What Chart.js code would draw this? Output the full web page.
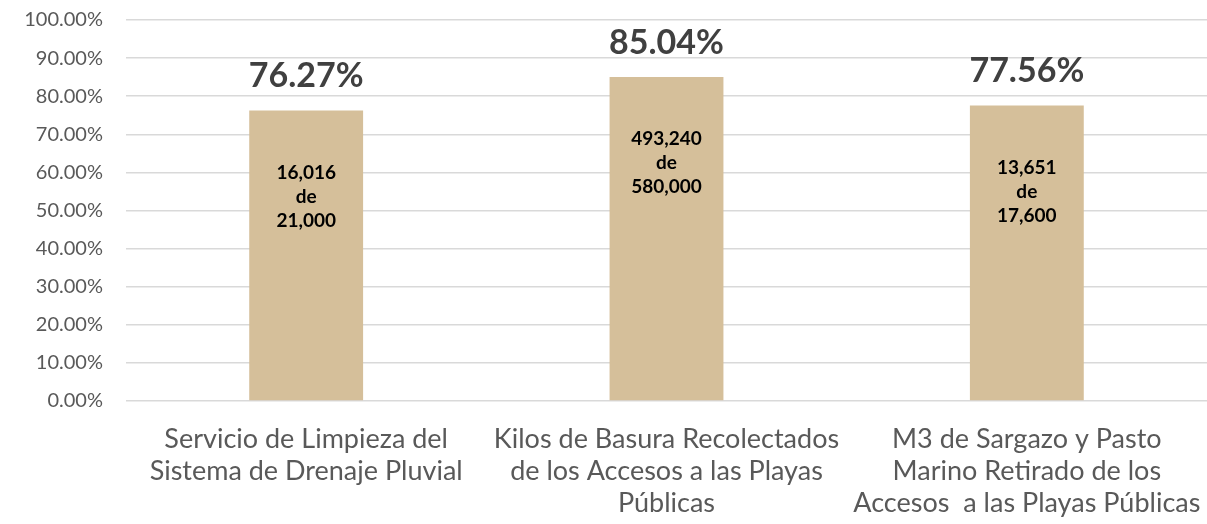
<!DOCTYPE html>
<html lang="es">
  <head>
    <meta charset="UTF-8" />
    <title>Avance de metas</title>
    <style>
      html, body { margin: 0; padding: 0; background: #fff; }
      .chart-wrapper { width: 1207px; height: 524px; }
    </style>
  </head>
  <body>
    <div class="chart-wrapper">
      <canvas id="chartBar"></canvas>
    </div>
    <script src="https://cdn.jsdelivr.net/npm/chart.js"></script>
    <script>
      const categories = [
        ["Servicio de Limpieza del", "Sistema de Drenaje Pluvial"],
        ["Kilos de Basura Recolectados", "de los Accesos a las Playas", "Públicas"],
        ["M3 de Sargazo y Pasto", "Marino Retirado de los", "Accesos  a las Playas Públicas"],
      ];
      const percentages = [76.27, 85.04, 77.56];
      const achieved = ["16,016", "493,240", "13,651"];
      const goals = ["21,000", "580,000", "17,600"];
      const yTicks = [0, 10, 20, 30, 40, 50, 60, 70, 80, 90, 100];

      const labelFont = "Lato, 'Open Sans', sans-serif";

      // draws the percentage above each bar and the "x de y" text inside it
      const barLabels = {
        id: "barLabels",
        afterDatasetsDraw(chart) {
          const ctx = chart.ctx;
          const bars = chart.getDatasetMeta(0).data;
          ctx.save();
          ctx.textAlign = "center";
          bars.forEach(function (bar, i) {
            ctx.fillStyle = "#404040";
            ctx.font = "bold 34px " + labelFont;
            ctx.textBaseline = "alphabetic";
            ctx.fillText(percentages[i].toFixed(2) + "%", bar.x, bar.y - 23);

            ctx.fillStyle = "#000";
            ctx.font = "bold 19px " + labelFont;
            ctx.textBaseline = "middle";
            const mid = bar.y + 86;
            ctx.fillText(achieved[i], bar.x, mid - 24);
            ctx.fillText("de", bar.x, mid);
            ctx.fillText(goals[i], bar.x, mid + 24);
          });
          ctx.restore();
        },
      };

      new Chart(document.getElementById("chartBar"), {
        type: "bar",
        data: {
          labels: categories,
          datasets: [
            {
              data: percentages,
              backgroundColor: "#d5bf9a",
              categoryPercentage: 0.316,
              barPercentage: 1,
            },
          ],
        },
        options: {
          responsive: true,
          maintainAspectRatio: false,
          animation: false,
          layout: { padding: { top: 20, right: -3 } },
          plugins: {
            legend: { display: false },
            tooltip: { enabled: false },
          },
          scales: {
            x: {
              grid: { display: false },
              border: { display: false },
              ticks: {
                color: "#595959",
                font: { family: labelFont, size: 27, lineHeight: "32px" },
                padding: 14,
                maxRotation: 0,
                autoSkip: false,
              },
              afterFit(scale) {
                scale.height = 123;
                scale.paddingLeft = 0;
                scale.paddingRight = 0;
              },
            },
            y: {
              min: 0,
              max: 100,
              afterBuildTicks(scale) {
                scale.ticks = yTicks.map((v) => ({ value: v }));
              },
              grid: {
                color: "#d9d9d9",
                lineWidth: 1.5,
                drawTicks: false,
              },
              border: { display: false },
              ticks: {
                color: "#595959",
                font: { family: labelFont, size: 20 },
                padding: 23,
                callback: (v) => v.toFixed(2) + "%",
              },
              afterFit(scale) {
                scale.width = 126;
                scale.paddingTop = 0;
                scale.paddingBottom = 0;
              },
            },
          },
        },
        plugins: [barLabels],
      });
    </script>
  </body>
</html>
